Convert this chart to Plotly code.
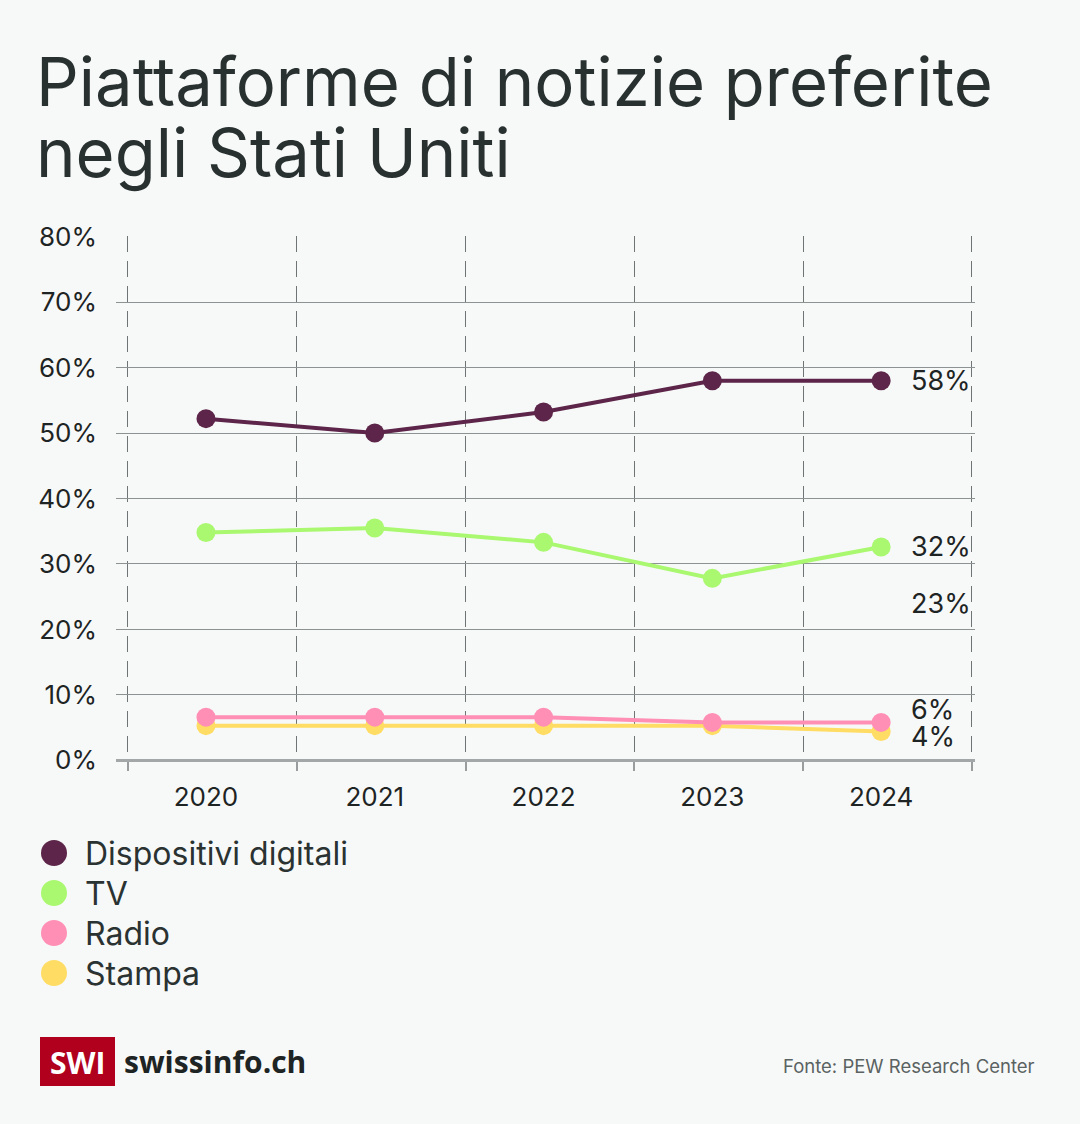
import plotly.graph_objects as go

years = [2020, 2021, 2022, 2023, 2024]
series_names = ["Dispositivi digitali", "TV", "Radio", "Stampa"]
digital = [52.2, 50.0, 53.2, 58.0, 58.0]
tv = [34.8, 35.5, 33.3, 27.8, 32.6]
radio = [6.6, 6.6, 6.6, 5.8, 5.8]
stampa = [5.3, 5.3, 5.3, 5.3, 4.4]
end_labels = ["58%", "32%", "23%", "6%", "4%"]
y_ticks = [0, 10, 20, 30, 40, 50, 60, 70, 80]
title_lines = ["Piattaforme di notizie preferite", "negli Stati Uniti"]
source_text = "Fonte: PEW Research Center"

colors = ["#5c2549", "#a9f870", "#ff8fb5", "#ffdc63"]
values = [digital, tv, radio, stampa]
BG = "#f7f9f8"
TXT = "#1e2424"
FONT = "Inter, Roboto, sans-serif"

W, H = 1080, 1124
L, R, T, B = 116, 105, 236, 363
PW, PH = W - L - R, H - T - B


def px(x):
    return (x - L) / PW


def py(y):
    return 1 - (y - T) / PH


fig = go.Figure()
for name, vals, col in list(zip(series_names, values, colors))[::-1]:
    fig.add_trace(go.Scatter(
        x=years, y=vals, name=name, mode="lines+markers",
        line=dict(color=col, width=4),
        marker=dict(color=col, size=19),
        showlegend=False, hoverinfo="skip"))

# end labels (positions nudged to avoid overlap, as in the original)
label_y = [58.0, 32.6, 23.9, 7.8, 3.6]
for txt, ly in zip(end_labels, label_y):
    fig.add_annotation(x=years[-1], y=ly, xref="x", yref="y", text=txt,
                       showarrow=False, xanchor="left", yanchor="middle",
                       xshift=28, font=dict(size=27, color=TXT, family=FONT))

# title, two lines with tight leading
for i, line in enumerate(title_lines):
    fig.add_annotation(xref="paper", yref="paper", x=px(34), y=py(82 + 70 * i),
                       text=line, showarrow=False, xanchor="left", yanchor="middle",
                       font=dict(size=67, color="#283030", family=FONT))

# manual legend
leg_top = 853
for i, (name, col) in enumerate(zip(series_names, colors)):
    yc = leg_top + 40 * i
    fig.add_shape(type="circle", xref="paper", yref="paper",
                  xsizemode="pixel", ysizemode="pixel",
                  xanchor=px(54), yanchor=py(yc),
                  x0=-13, x1=13, y0=-13, y1=13,
                  fillcolor=col, line=dict(width=0))
    fig.add_annotation(xref="paper", yref="paper", x=px(83), y=py(yc),
                       text=name, showarrow=False, xanchor="left", yanchor="middle",
                       font=dict(size=32, color="#2a3232", family=FONT))

# footer: logo + source
fig.add_shape(type="rect", xref="paper", yref="paper",
              x0=px(40), x1=px(115), y0=py(1086), y1=py(1037),
              fillcolor="#b0001e", line=dict(width=0))
fig.add_annotation(xref="paper", yref="paper", x=px(77.5), y=py(1062),
                   text="<b>SWI</b>", showarrow=False,
                   xanchor="center", yanchor="middle",
                   font=dict(size=30, color="white", family="Open Sans, sans-serif"))
fig.add_annotation(xref="paper", yref="paper", x=px(122), y=py(1061),
                   text="<b>swissinfo.ch</b>", showarrow=False,
                   xanchor="left", yanchor="middle",
                   font=dict(size=30, color="#1e2424", family="Open Sans, sans-serif"))
fig.add_annotation(xref="paper", yref="paper", x=px(1037), y=py(1066),
                   text=source_text, showarrow=False,
                   xanchor="right", yanchor="middle",
                   font=dict(size=18.5, color="#5a6262", family=FONT))

fig.update_layout(
    width=W, height=H,
    margin=dict(l=L, r=R, t=T, b=B),
    paper_bgcolor=BG, plot_bgcolor=BG,
    font=dict(family=FONT, color=TXT),
    showlegend=False,
)

fig.update_xaxes(
    range=[2019.467, 2024.556], tickvals=years, ticktext=[str(y) for y in years],
    showgrid=False, zeroline=False, showline=False, ticks="",
    tickfont=dict(size=26, color=TXT), ticklabelstandoff=18,
    minor=dict(tickmode="array", tickvals=[2019.538 + i for i in range(6)],
               showgrid=True, gridcolor="#6f7474", griddash="16px,9px", gridwidth=1,
               ticks="outside", ticklen=9, tickcolor="#9a9d9d", tickwidth=2),
)
fig.update_yaxes(
    range=[-0.1, 80.1], tickvals=y_ticks, ticktext=[f"{v}%" for v in y_ticks],
    showgrid=True, gridcolor="#8d9292", gridwidth=1,
    zeroline=True, zerolinecolor="#a3a7a7", zerolinewidth=3,
    showline=False, ticks="", tickfont=dict(size=26, color=TXT),
    ticklabelstandoff=18,
)

fig.write_html("out.html")
